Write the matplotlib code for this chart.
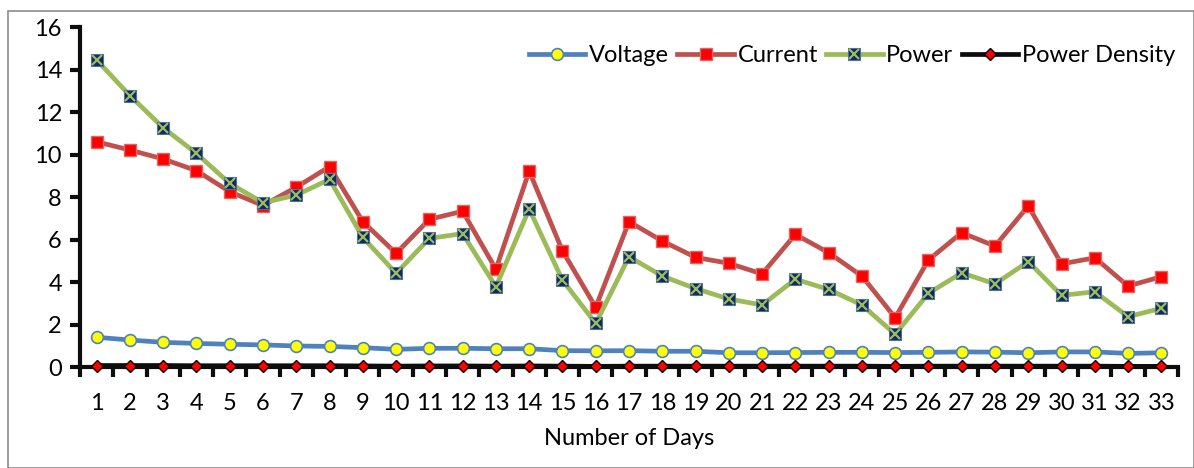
import numpy as np
import matplotlib.pyplot as plt
from matplotlib.patches import Rectangle
from matplotlib.legend_handler import HandlerTuple

plt.rcParams["font.family"] = ["Lato", "DejaVu Sans"]

days = np.arange(1, 34)
voltage = [1.40, 1.27, 1.16, 1.11, 1.07, 1.04, 0.99, 0.97, 0.91, 0.83, 0.88,
           0.88, 0.86, 0.86, 0.77, 0.76, 0.77, 0.74, 0.74, 0.67, 0.67, 0.68,
           0.69, 0.69, 0.68, 0.69, 0.71, 0.70, 0.67, 0.71, 0.71, 0.64, 0.67]
current = [10.60, 10.21, 9.79, 9.24, 8.25, 7.60, 8.46, 9.43, 6.84, 5.35, 6.95,
           7.33, 4.60, 9.22, 5.47, 2.81, 6.84, 5.93, 5.16, 4.88, 4.38, 6.24,
           5.38, 4.28, 2.32, 5.04, 6.32, 5.69, 7.58, 4.85, 5.14, 3.81, 4.25]
power = [14.45, 12.77, 11.26, 10.05, 8.64, 7.73, 8.09, 8.83, 6.10, 4.41, 6.05,
         6.28, 3.78, 7.43, 4.09, 2.05, 5.19, 4.28, 3.69, 3.20, 2.92, 4.13,
         3.65, 2.92, 1.54, 3.47, 4.43, 3.91, 4.96, 3.37, 3.54, 2.37, 2.76]
power_density = [0.07, 0.07, 0.07, 0.06, 0.06, 0.06, 0.06, 0.06, 0.05, 0.04,
                 0.05, 0.05, 0.04, 0.05, 0.04, 0.03, 0.04, 0.04, 0.04, 0.04,
                 0.04, 0.04, 0.04, 0.04, 0.03, 0.04, 0.04, 0.04, 0.04, 0.04,
                 0.04, 0.03, 0.03]

fig = plt.figure(figsize=(11.94, 4.68), dpi=100)
ax = fig.add_axes([0.067, 0.2158, 0.9196, 0.7265])

# outer frame of the chart area
fig.patches.append(Rectangle((0.007, 0.0), 0.993, 0.977, transform=fig.transFigure,
                             fill=False, edgecolor="#8c8c8c", lw=1.2))

lw = 3.4
h_v, = ax.plot(days, voltage, color="#4F81BD", lw=lw, marker="o", ms=8.5,
               mfc="#FFFF00", mec="#4F81BD", mew=1.2, zorder=3)
h_c, = ax.plot(days, current, color="#C0504D", lw=lw, marker="s", ms=8.5,
               mfc="#FF0000", mec="#E06666", mew=1.0, zorder=3)
h_p, = ax.plot(days, power, color="#9BBB59", lw=lw, marker="s", ms=9,
               mfc="#0D2A66", mec="#4F6E9E", mew=0.8, zorder=4)
h_px, = ax.plot(days, power, ls="none", marker="x", ms=7.5,
                mec="#9BBB59", mew=1.6, zorder=5)
h_pd, = ax.plot(days, power_density, color="#0d0d0d", lw=lw, marker="D", ms=6.5,
                mfc="#FF0000", mec="#000000", mew=1.0, zorder=6, clip_on=False)

ax.set_xlim(0.5, 33.5)
ax.set_ylim(0, 16)
ax.set_yticks(np.arange(0, 17, 2))
ax.set_xticks(np.arange(0.5, 34, 1))
ax.set_xticklabels([])
ax.set_xticks(days, minor=True)
ax.set_xticklabels([str(d) for d in days], minor=True)

for s in ["top", "right"]:
    ax.spines[s].set_visible(False)
for s in ["left", "bottom"]:
    ax.spines[s].set_linewidth(3)
    ax.spines[s].set_color("#0d0d0d")

ax.tick_params(axis="y", which="major", length=7, width=3, labelsize=17,
               pad=6, color="#0d0d0d")
ax.tick_params(axis="x", which="major", length=7, width=3, color="#0d0d0d")
ax.tick_params(axis="x", which="minor", length=0, labelsize=17, pad=19)

ax.set_xlabel("Number of Days", fontsize=17, labelpad=10)

leg = ax.legend([h_v, h_c, (h_p, h_px), h_pd],
                ["Voltage", "Current", "Power", "Power Density"],
                handler_map={tuple: HandlerTuple(ndivide=1, pad=0)},
                loc="center right", bbox_to_anchor=(1.006, 0.915), ncol=4,
                frameon=False, fontsize=17, handlelength=2.4, handletextpad=0.15,
                columnspacing=0.35, borderaxespad=0)

fig.savefig("out.png", dpi=100)
